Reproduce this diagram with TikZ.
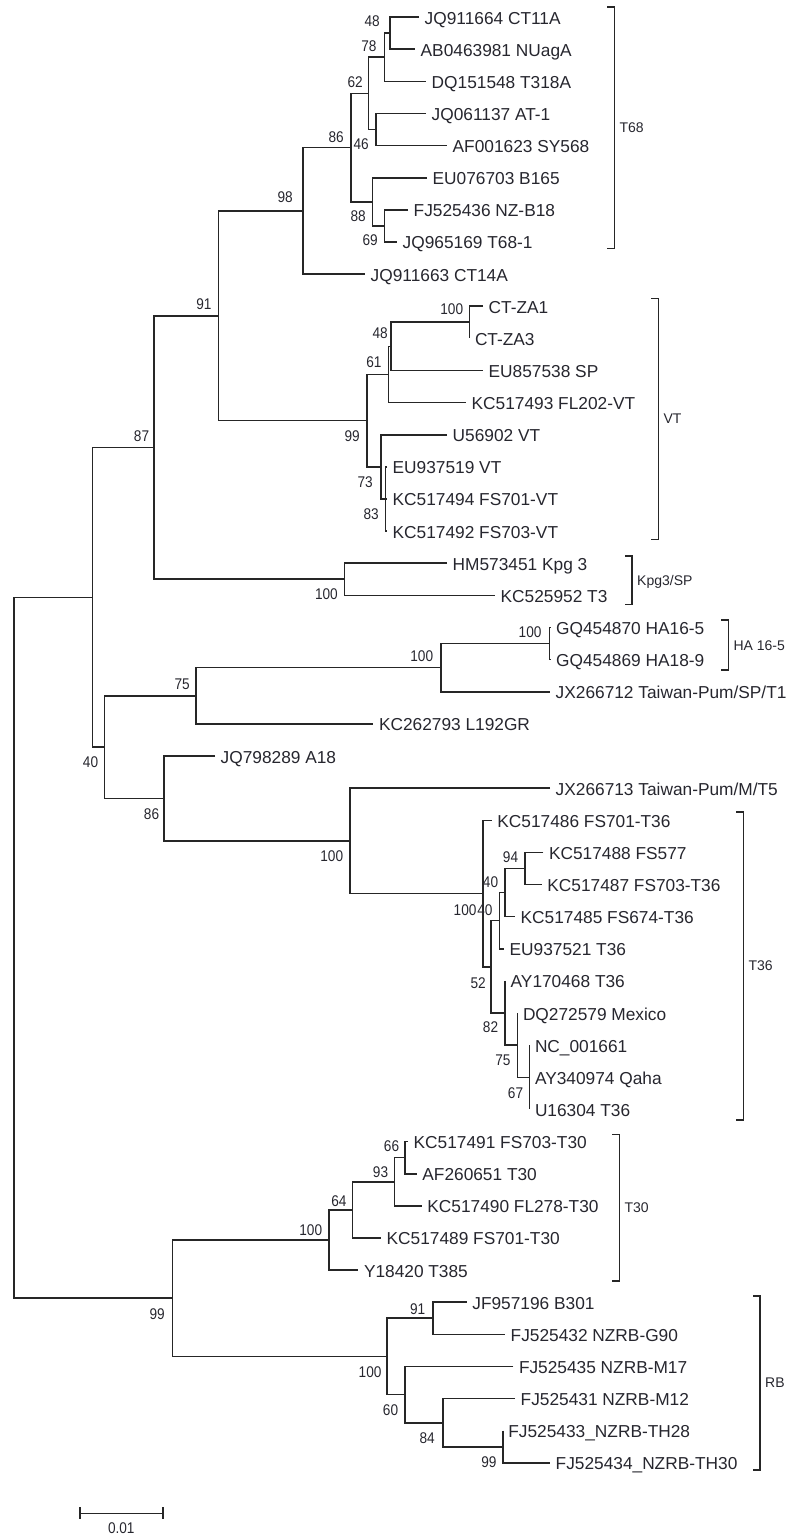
\documentclass[tikz,border=0pt]{standalone}
\usepackage{fontspec}
\usepackage{graphicx}
\usetikzlibrary{calc}
\setmainfont{Liberation Sans}
\definecolor{linec}{HTML}{262626}
\definecolor{txtc}{HTML}{26262E}
\newcommand\leaffont{\fontsize{17.3}{20}\selectfont}
\newcommand\bsfont{\fontsize{15.5}{18}\selectfont}
\newcommand\clfont{\fontsize{14}{16}\selectfont}
\newcommand\bsv[1]{\scalebox{0.88}[1]{#1}}
\tikzset{
  br/.style={line width=1.6pt, draw=linec},
  leaf/.style={anchor=base west, inner sep=0pt, font=\leaffont, text=txtc, xshift=5.5pt, yshift=-7pt},
  bs/.style={anchor=east, inner sep=0pt, font=\bsfont, text=txtc},
  clade/.style={anchor=base west, inner sep=0pt, font=\clfont, text=txtc, xshift=5pt, yshift=-5pt},
}
\newcommand\elbow[3]{\draw[br] (#2) -- (#1|-#2) -- (#1|-#3) -- (#3);}
\begin{document}
\begin{tikzpicture}[x=1pt,y=-1pt]
\useasboundingbox (0,0) rectangle (792,1535);
% ---- leaf tips
\coordinate (t1) at (419,17.0);
\coordinate (t2) at (415,49.1);
\coordinate (t3) at (426,81.3);
\coordinate (t4) at (426,113.4);
\coordinate (t5) at (447,145.5);
\coordinate (t6) at (427,177.7);
\coordinate (t7) at (408,209.8);
\coordinate (t8) at (397,241.9);
\coordinate (t9) at (365,274.0);
\coordinate (t10) at (483,306.2);
\coordinate (t11) at (469.3,338.3);
\coordinate (t12) at (483,370.4);
\coordinate (t13) at (466,402.6);
\coordinate (t14) at (447,434.7);
\coordinate (t15) at (387,466.8);
\coordinate (t16) at (387,498.9);
\coordinate (t17) at (387,531.1);
\coordinate (t18) at (447,563.2);
\coordinate (t19) at (495,595.3);
\coordinate (t20) at (550.5,627.5);
\coordinate (t21) at (550.5,659.6);
\coordinate (t22) at (550,691.7);
\coordinate (t23) at (373.3,723.9);
\coordinate (t24) at (215,756.0);
\coordinate (t25) at (550,788.1);
\coordinate (t26) at (491.7,820.3);
\coordinate (t27) at (543.3,852.4);
\coordinate (t28) at (541.7,884.5);
\coordinate (t29) at (515,916.6);
\coordinate (t30) at (504,948.8);
\coordinate (t31) at (505,980.9);
\coordinate (t32) at (517.3,1013.0);
\coordinate (t33) at (529.3,1045.2);
\coordinate (t34) at (529.3,1077.3);
\coordinate (t35) at (529.3,1109.4);
\coordinate (t36) at (408,1141.6);
\coordinate (t37) at (416.7,1173.7);
\coordinate (t38) at (421.7,1205.8);
\coordinate (t39) at (381,1237.9);
\coordinate (t40) at (358.3,1270.1);
\coordinate (t41) at (466.7,1302.2);
\coordinate (t42) at (505,1334.3);
\coordinate (t43) at (513.3,1366.5);
\coordinate (t44) at (515,1398.6);
\coordinate (t45) at (502.7,1430.7);
\coordinate (t46) at (550,1462.8);
% ---- internal nodes
\coordinate (A) at (390,33.05);
\coordinate (B) at (384.3,57.2);
\coordinate (C) at (375.7,129.45);
\coordinate (D) at (368.3,93.3);
\coordinate (F) at (384.3,225.85);
\coordinate (E) at (372.3,201.8);
\coordinate (G) at (351,147.55);
\coordinate (H) at (302.7,210.8);
\coordinate (ZA) at (469.3,322.25);
\coordinate (ZS) at (390.7,346.3);
\coordinate (ZF) at (388.3,374.45);
\coordinate (N83) at (385.5,498.95);
\coordinate (R73) at (380.7,466.8);
\coordinate (VTR) at (366.7,420.6);
\coordinate (N91) at (218.3,315.7);
\coordinate (NK) at (344.3,579.25);
\coordinate (N87) at (154,447.5);
\coordinate (HA) at (549.3,643.55);
\coordinate (HP) at (441,667.6);
\coordinate (N75) at (196,695.75);
\coordinate (N94) at (525,868.45);
\coordinate (N40a) at (505,892.5);
\coordinate (N40b) at (499.3,920.65);
\coordinate (N67) at (529.3,1077.3);
\coordinate (N75b) at (517.3,1045.15);
\coordinate (N82) at (505,1013.0);
\coordinate (N52) at (491,966.8);
\coordinate (T36R) at (482.7,893.55);
\coordinate (TS) at (350,840.8);
\coordinate (N86) at (164,798.4);
\coordinate (X) at (104.3,747.1);
\coordinate (Y) at (92.3,597.3);
\coordinate (N66) at (405,1157.65);
\coordinate (N93) at (394.3,1181.7);
\coordinate (N64) at (352.3,1209.8);
\coordinate (T30R) at (329,1239.95);
\coordinate (N99) at (502.7,1446.75);
\coordinate (N84) at (442.7,1422.7);
\coordinate (N60) at (405,1394.6);
\coordinate (N91b) at (432.7,1318.25);
\coordinate (RBR) at (386.7,1356.4);
\coordinate (Z) at (172.3,1298.2);
\coordinate (R) at (14,947.75);
% ---- branches
\elbow{R}{Y}{Z}
\elbow{Y}{N87}{X}
\elbow{N87}{N91}{NK}
\elbow{N91}{H}{VTR}
\elbow{H}{G}{t9}
\elbow{G}{D}{E}
\elbow{D}{B}{C}
\elbow{B}{A}{t3}
\elbow{A}{t1}{t2}
\elbow{C}{t4}{t5}
\elbow{E}{t6}{F}
\elbow{F}{t7}{t8}
\elbow{VTR}{ZF}{R73}
\elbow{ZF}{ZS}{t13}
\elbow{ZS}{ZA}{t12}
\elbow{ZA}{t10}{t11}
\elbow{R73}{t14}{N83}
\elbow{N83}{t15}{t17}
\draw[br] (N83|-t16) -- (t16);
\elbow{NK}{t18}{t19}
\elbow{X}{N75}{N86}
\elbow{N75}{HP}{t23}
\elbow{HP}{HA}{t22}
\elbow{HA}{t20}{t21}
\elbow{N86}{t24}{TS}
\elbow{TS}{t25}{T36R}
\elbow{T36R}{t26}{N52}
\elbow{N52}{N40b}{N82}
\elbow{N40b}{N40a}{t30}
\elbow{N40a}{N94}{t29}
\elbow{N94}{t27}{t28}
\elbow{N82}{t31}{N75b}
\elbow{N75b}{t32}{N67}
\elbow{N67}{t33}{t35}
\draw[br] (N67|-t34) -- (t34);
\elbow{Z}{T30R}{RBR}
\elbow{T30R}{N64}{t40}
\elbow{N64}{N93}{t39}
\elbow{N93}{N66}{t38}
\elbow{N66}{t36}{t37}
\elbow{RBR}{N91b}{N60}
\elbow{N91b}{t41}{t42}
\elbow{N60}{t43}{N84}
\elbow{N84}{t44}{N99}
\elbow{N99}{t45}{t46}
% ---- leaf labels
\node[leaf] (l1) at (t1) {JQ911664 CT11A};
\node[leaf] (l2) at (t2) {AB0463981 NUagA};
\node[leaf] (l3) at (t3) {DQ151548 T318A};
\node[leaf] (l4) at (t4) {JQ061137 AT-1};
\node[leaf] (l5) at (t5) {AF001623 SY568};
\node[leaf] (l6) at (t6) {EU076703 B165};
\node[leaf] (l7) at (t7) {FJ525436 NZ-B18};
\node[leaf] (l8) at (t8) {JQ965169 T68-1};
\node[leaf] (l9) at (t9) {JQ911663 CT14A};
\node[leaf] (l10) at (t10) {CT-ZA1};
\node[leaf] (l11) at (t11) {CT-ZA3};
\node[leaf] (l12) at (t12) {EU857538 SP};
\node[leaf] (l13) at (t13) {KC517493 FL202-VT};
\node[leaf] (l14) at (t14) {U56902 VT};
\node[leaf] (l15) at (t15) {EU937519 VT};
\node[leaf] (l16) at (t16) {KC517494 FS701-VT};
\node[leaf] (l17) at (t17) {KC517492 FS703-VT};
\node[leaf] (l18) at (t18) {HM573451 Kpg 3};
\node[leaf] (l19) at (t19) {KC525952 T3};
\node[leaf] (l20) at (t20) {GQ454870 HA16-5};
\node[leaf] (l21) at (t21) {GQ454869 HA18-9};
\node[leaf] (l22) at (t22) {JX266712 Taiwan-Pum/SP/T1};
\node[leaf] (l23) at (t23) {KC262793 L192GR};
\node[leaf] (l24) at (t24) {JQ798289 A18};
\node[leaf] (l25) at (t25) {JX266713 Taiwan-Pum/M/T5};
\node[leaf] (l26) at (t26) {KC517486 FS701-T36};
\node[leaf] (l27) at (t27) {KC517488 FS577};
\node[leaf] (l28) at (t28) {KC517487 FS703-T36};
\node[leaf] (l29) at (t29) {KC517485 FS674-T36};
\node[leaf] (l30) at (t30) {EU937521 T36};
\node[leaf] (l31) at (t31) {AY170468 T36};
\node[leaf] (l32) at (t32) {DQ272579 Mexico};
\node[leaf] (l33) at (t33) {NC\_001661};
\node[leaf] (l34) at (t34) {AY340974 Qaha};
\node[leaf] (l35) at (t35) {U16304 T36};
\node[leaf] (l36) at (t36) {KC517491 FS703-T30};
\node[leaf] (l37) at (t37) {AF260651 T30};
\node[leaf] (l38) at (t38) {KC517490 FL278-T30};
\node[leaf] (l39) at (t39) {KC517489 FS701-T30};
\node[leaf] (l40) at (t40) {Y18420 T385};
\node[leaf] (l41) at (t41) {JF957196 B301};
\node[leaf] (l42) at (t42) {FJ525432 NZRB-G90};
\node[leaf] (l43) at (t43) {FJ525435 NZRB-M17};
\node[leaf] (l44) at (t44) {FJ525431 NZRB-M12};
\node[leaf] (l45) at (t45) {FJ525433\_NZRB-TH28};
\node[leaf] (l46) at (t46) {FJ525434\_NZRB-TH30};
% ---- bootstrap values
\node[bs] (bA) at (380,21) {\bsv{48}};
\node[bs] (bB) at (376.7,45.8) {\bsv{78}};
\node[bs] (bD) at (363,82) {\bsv{62}};
\node[bs] (bG) at (344,136.7) {\bsv{86}};
\node[bs] (bC) at (369,144) {\bsv{46}};
\node[bs] (bE) at (366,216) {\bsv{88}};
\node[bs] (bF) at (378,240) {\bsv{69}};
\node[bs] (bH) at (293,196.7) {\bsv{98}};
\node[bs] (bN91) at (211.7,304) {\bsv{91}};
\node[bs] (bZA) at (463.3,309.3) {\bsv{100}};
\node[bs] (bZS) at (388,333.5) {\bsv{48}};
\node[bs] (bZF) at (381.7,361.7) {\bsv{61}};
\node[bs] (bVTR) at (360,436) {\bsv{99}};
\node[bs] (bR73) at (373,482) {\bsv{73}};
\node[bs] (bN83) at (379,514) {\bsv{83}};
\node[bs] (bN87) at (149.3,436) {\bsv{87}};
\node[bs] (bNK) at (338,594) {\bsv{100}};
\node[bs] (bHA) at (541.7,631.7) {\bsv{100}};
\node[bs] (bHP) at (433.3,656) {\bsv{100}};
\node[bs] (bN75) at (190,684) {\bsv{75}};
\node[bs] (bX) at (98.3,761.7) {\bsv{40}};
\node[bs] (bN86) at (159.3,814) {\bsv{86}};
\node[bs] (bTS) at (343.3,856) {\bsv{100}};
\node[bs] (bN94) at (518.3,857) {\bsv{94}};
\node[bs] (bN40a) at (498.3,882.5) {\bsv{40}};
\node[bs] (bT36R) at (476.7,910) {\bsv{100}};
\node[bs] (bN40b) at (492.7,910) {\bsv{40}};
\node[bs] (bN52) at (486,982.7) {\bsv{52}};
\node[bs] (bN82) at (498.3,1027.5) {\bsv{82}};
\node[bs] (bN75b) at (510.7,1060) {\bsv{75}};
\node[bs] (bN67) at (523.3,1093.3) {\bsv{67}};
\node[bs] (bN66) at (399.3,1145.7) {\bsv{66}};
\node[bs] (bN93) at (388.3,1172) {\bsv{93}};
\node[bs] (bN64) at (346.7,1200.8) {\bsv{64}};
\node[bs] (bT30R) at (322.3,1230) {\bsv{100}};
\node[bs] (bZ) at (165,1314) {\bsv{99}};
\node[bs] (bN91b) at (425.5,1309) {\bsv{91}};
\node[bs] (bRBR) at (381.7,1371.7) {\bsv{100}};
\node[bs] (bN60) at (398.3,1410) {\bsv{60}};
\node[bs] (bN84) at (435,1438) {\bsv{84}};
\node[bs] (bN99) at (496.7,1462.5) {\bsv{99}};
% ---- clade brackets
\coordinate (k1t) at (614.3,6.7);   \coordinate (k1b) at (614.3,248.3);
\coordinate (k2t) at (658.3,298.3); \coordinate (k2b) at (658.3,539.3);
\coordinate (k3t) at (632,556);     \coordinate (k3b) at (632,604.3);
\coordinate (k4t) at (728.3,620);   \coordinate (k4b) at (728.3,670);
\coordinate (k5t) at (743.3,811.7); \coordinate (k5b) at (743.3,1120);
\coordinate (k6t) at (619.3,1134.3);\coordinate (k6b) at (619.3,1281);
\coordinate (k7t) at (760,1295.7);  \coordinate (k7b) at (760,1470);
\foreach \k in {k1,k2,k3,k4,k5,k6,k7}{
  \draw[br] ([xshift=-7pt]\k t) -- (\k t) -- (\k b) -- ([xshift=-7pt]\k b);
}
\node[clade] (c1) at ($(k1t)!0.5!(k1b)$) {T68};
\node[clade] (c2) at ($(k2t)!0.5!(k2b)$) {VT};
\node[clade] (c3) at ($(k3t)!0.5!(k3b)$) {Kpg3/SP};
\node[clade] (c4) at ($(k4t)!0.5!(k4b)$) {HA 16-5};
\node[clade] (c5) at ($(k5t)!0.5!(k5b)$) {T36};
\node[clade] (c6) at ($(k6t)!0.5!(k6b)$) {T30};
\node[clade] (c7) at ($(k7t)!0.5!(k7b)$) {RB};
% ---- scale bar
\coordinate (sb1) at (80,1513.3);
\coordinate (sb2) at (162.7,1513.3);
\draw[br] (sb1) -- (sb2);
\draw[br] ([yshift=6pt]sb1) -- ([yshift=-6pt]sb1);
\draw[br] ([yshift=6pt]sb2) -- ([yshift=-6pt]sb2);
\node[bs, anchor=center] (sbl) at (121.3,1528.5) {\bsv{0.01}};
\end{tikzpicture}
\end{document}
